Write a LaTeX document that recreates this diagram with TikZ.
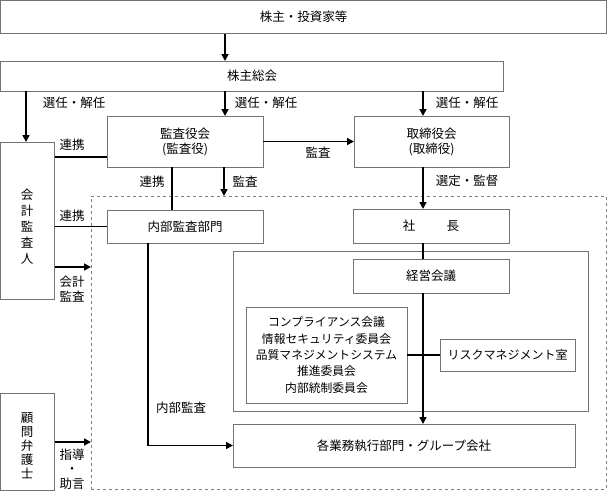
\documentclass[tikz,border=0pt]{standalone}
\usepackage{fontspec}
\setmainfont{Noto Sans CJK JP}
\usetikzlibrary{arrows.meta}
\begin{document}
\begin{tikzpicture}[x=1pt,y=-1pt,
 box/.style={draw=black!55, line width=0.8pt, fill=white, outer sep=0pt, inner sep=1pt, align=center, anchor=north west, font=\fontsize{12.5}{15}\selectfont},
 arr/.style={line width=1.6pt, -{Triangle[length=7pt,width=7pt]}},
 ln/.style={line width=1.6pt},
 lbl/.style={font=\fontsize{12.5}{15}\selectfont, inner sep=0pt, align=center},
]
\useasboundingbox (0,0) rectangle (607,490);
% coordinates for connector alignment
\coordinate (xL) at (26,0);
\coordinate (xM) at (225,0);
\coordinate (xR) at (423,0);
\coordinate (xK) at (172,0);
\coordinate (xS) at (224,0);
\coordinate (xN) at (148,0);
\coordinate (y157) at (0,157);
\coordinate (y267) at (0,267);
\coordinate (y442) at (0,442);
% frames
\node[draw=black!50, dashed, line width=0.7pt, minimum width=515, minimum height=293, anchor=north west, outer sep=0pt, inner sep=0pt] (dash) at (91,196) {};
\node[box, minimum width=606, minimum height=33] (inv) at (0.5,0.5) {株主・投資家等};
\node[box, minimum width=503, minimum height=30] (gm) at (0.5,61) {株主総会};
\node[box, minimum width=156, minimum height=51] (kan) at (107,116) {監査役会\\(監査役)};
\node[box, minimum width=155, minimum height=51] (tori) at (354,116) {取締役会\\(取締役)};
\node[box, minimum width=54, minimum height=157] (kaikei) at (0.5,142) {};
\node[box, minimum width=156, minimum height=33] (naibu) at (107,210) {内部監査部門};
\node[box, minimum width=156, minimum height=34] (pres) at (353,209) {社\hspace{2.5em}長};
\node[box, minimum width=355, minimum height=160] (grp) at (233,251) {};
\node[box, minimum width=156, minimum height=34] (keiei) at (353,259) {経営会議};
\node[box, minimum width=161, minimum height=96, font=\fontsize{11.8}{16.3}\selectfont] (comp) at (246,307) {コンプライアンス会議\\情報セキュリティ委員会\\品質マネジメントシステム\\推進委員会\\内部統制委員会};
\node[box, minimum width=135, minimum height=32, font=\fontsize{12}{15}\selectfont] (risk) at (440,339) {リスクマネジメント室};
\node[box, minimum width=342, minimum height=43] (exec) at (233,424) {各業務執行部門・グループ会社};
\node[box, minimum width=54, minimum height=97] (komon) at (0.5,393) {};
% vertical texts
\node[lbl, font=\fontsize{12.5}{16}\selectfont] (t1) at (27,227) {会\\計\\監\\査\\人};
\node[lbl, font=\fontsize{12.5}{14}\selectfont] (t2) at (27,446) {顧\\問\\弁\\護\\士};
% connectors
\draw[arr] (inv.south -| xM) -- (gm.north -| xM);
\draw[arr] (gm.south -| xL) -- (kaikei.north -| xL);
\draw[arr] (gm.south -| xM) -- (kan.north -| xM);
\draw[arr] (gm.south -| xR) -- (tori.north -| xR);
\draw[arr] (kan.east) -- (tori.west);
\draw[ln] (kaikei.east |- y157) -- (kan.west |- y157);
\draw[ln] (kan.south -| xK) -- (naibu.north -| xK);
\draw[arr] (kan.south -| xS) -- (dash.north -| xS);
\draw[ln] (kaikei.east |- naibu.west) -- (naibu.west);
\draw[arr] (kaikei.east |- y267) -- (dash.west |- y267);
\draw[arr] (tori.south -| xR) -- (pres.north -| xR);
\draw[ln] (pres.south -| xR) -- (keiei.north -| xR);
\draw[arr] (keiei.south -| xR) -- (exec.north -| xR);
\draw[ln] (comp.east) -- (risk.west);
\draw[arr] (naibu.south -| xN) |- (exec.west);
\draw[arr] (komon.east |- y442) -- (dash.west |- y442);
% labels
\node[lbl] (l1) at (74,103) {選任・解任};
\node[lbl] (l2) at (266,103) {選任・解任};
\node[lbl] (l3) at (467,103) {選任・解任};
\node[lbl] (l4) at (72,145) {連携};
\node[lbl] (l5) at (318,153) {監査};
\node[lbl] (l6) at (152,182) {連携};
\node[lbl] (l7) at (245,182) {監査};
\node[lbl] (l8) at (467,181) {選定・監督};
\node[lbl] (l9) at (72,216) {連携};
\node[lbl] (l10) at (72,289) {会計\\監査};
\node[lbl] (l11) at (181,408) {内部監査};
\node[lbl, font=\fontsize{12.5}{14.5}\selectfont] (l12) at (72,469) {指導\\・\\助言};
\end{tikzpicture}
\end{document}
